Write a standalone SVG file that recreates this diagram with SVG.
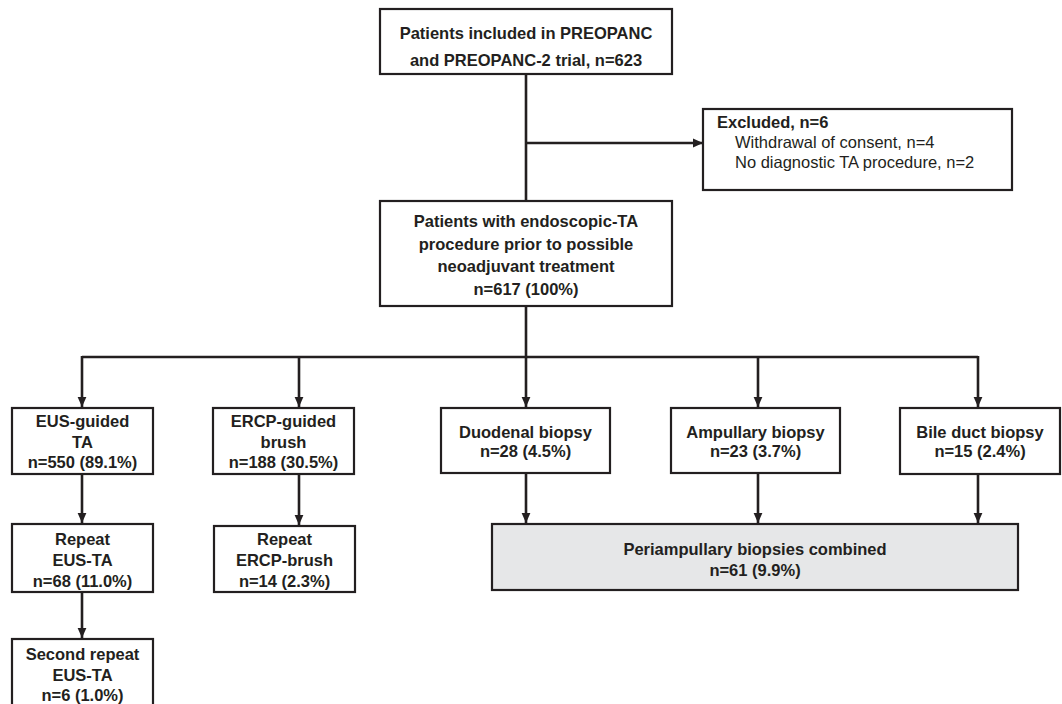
<svg xmlns="http://www.w3.org/2000/svg" width="1062" height="704" viewBox="0 0 1062 704">
<defs>
<marker id="ah" markerUnits="userSpaceOnUse" markerWidth="10" markerHeight="11" refX="10" refY="5" orient="auto" viewBox="0 0 10 10">
<path d="M0,0.6 L10,5 L0,9.4 z" fill="#231f20"/>
</marker>
<style>
.box{fill:#ffffff;stroke:#231f20;stroke-width:2.2}
.grey{fill:#e6e7e8;stroke:#231f20;stroke-width:2.2}
.t{font-family:"Liberation Sans",Arial,sans-serif;font-size:16.5px;font-weight:bold;fill:#231f20;text-anchor:middle}
.r{font-family:"Liberation Sans",Arial,sans-serif;font-size:16.5px;fill:#231f20}
.rb{font-family:"Liberation Sans",Arial,sans-serif;font-size:16.5px;font-weight:bold;fill:#231f20}
.c{fill:none;stroke:#231f20;stroke-width:2.6}
.ca{fill:none;stroke:#231f20;stroke-width:2.6;marker-end:url(#ah)}
</style>
</defs>
<rect width="1062" height="704" fill="#ffffff"/>
<g id="connectors">
<line class="c" x1="526" y1="74" x2="526" y2="201"/>
<line class="ca" x1="526" y1="143" x2="703" y2="143"/>
<line class="c" x1="526" y1="306" x2="526" y2="357"/>
<line class="c" x1="82" y1="357" x2="978" y2="357"/>
<line class="ca" x1="82" y1="356" x2="82" y2="407"/>
<line class="ca" x1="299" y1="356" x2="299" y2="407"/>
<line class="ca" x1="526" y1="356" x2="526" y2="407"/>
<line class="ca" x1="758" y1="356" x2="758" y2="407"/>
<line class="ca" x1="978" y1="356" x2="978" y2="407"/>
<line class="ca" x1="82" y1="474" x2="82" y2="523"/>
<line class="ca" x1="82" y1="592" x2="82" y2="638"/>
<line class="ca" x1="299" y1="474" x2="299" y2="525"/>
<line class="ca" x1="526" y1="473" x2="526" y2="523"/>
<line class="ca" x1="758" y1="473" x2="758" y2="523"/>
<line class="ca" x1="978" y1="474" x2="978" y2="523"/>
</g>
<g id="n-included">
<rect class="box" x="380" y="9" width="292" height="65"/>
<text class="t" x="526" y="39">Patients included in PREOPANC</text>
<text class="t" x="526" y="65.5">and PREOPANC-2 trial, n=623</text>
</g>
<g id="n-excluded">
<rect class="box" x="703" y="109" width="309" height="81"/>
<text class="rb" x="717" y="128">Excluded, n=6</text>
<text class="r" x="735" y="148">Withdrawal of consent, n=4</text>
<text class="r" x="735" y="168">No diagnostic TA procedure, n=2</text>
</g>
<g id="n-endoscopic">
<rect class="box" x="380" y="201" width="292" height="105"/>
<text class="t" x="526" y="227">Patients with endoscopic-TA</text>
<text class="t" x="526" y="249.5">procedure prior to possible</text>
<text class="t" x="526" y="272">neoadjuvant treatment</text>
<text class="t" x="526" y="294.5">n=617 (100%)</text>
</g>
<g id="n-eus">
<rect class="box" x="12" y="408" width="141" height="66"/>
<text class="t" x="82.5" y="427">EUS-guided</text>
<text class="t" x="82.5" y="447.5">TA</text>
<text class="t" x="82.5" y="468">n=550 (89.1%)</text>
</g>
<g id="n-ercp">
<rect class="box" x="213" y="408" width="141" height="66"/>
<text class="t" x="283.5" y="427">ERCP-guided</text>
<text class="t" x="283.5" y="447.5">brush</text>
<text class="t" x="283.5" y="468">n=188 (30.5%)</text>
</g>
<g id="n-duodenal">
<rect class="box" x="441" y="408" width="169" height="65"/>
<text class="t" x="525.5" y="438">Duodenal biopsy</text>
<text class="t" x="525.5" y="457">n=28 (4.5%)</text>
</g>
<g id="n-ampullary">
<rect class="box" x="671" y="408" width="169" height="65"/>
<text class="t" x="755.5" y="438">Ampullary biopsy</text>
<text class="t" x="755.5" y="457">n=23 (3.7%)</text>
</g>
<g id="n-bileduct">
<rect class="box" x="900" y="408" width="160" height="66"/>
<text class="t" x="980" y="438">Bile duct biopsy</text>
<text class="t" x="980" y="457">n=15 (2.4%)</text>
</g>
<g id="n-repeat-eus">
<rect class="box" x="12" y="524" width="141" height="68"/>
<text class="t" x="82.5" y="545">Repeat</text>
<text class="t" x="82.5" y="566">EUS-TA</text>
<text class="t" x="82.5" y="587">n=68 (11.0%)</text>
</g>
<g id="n-repeat-ercp">
<rect class="box" x="214" y="526" width="141" height="66"/>
<text class="t" x="284.5" y="545">Repeat</text>
<text class="t" x="284.5" y="566">ERCP-brush</text>
<text class="t" x="284.5" y="587">n=14 (2.3%)</text>
</g>
<g id="n-periampullary">
<rect class="grey" x="492" y="524" width="526" height="66"/>
<text class="t" x="755" y="555">Periampullary biopsies combined</text>
<text class="t" x="755" y="576">n=61 (9.9%)</text>
</g>
<g id="n-second-repeat">
<rect class="box" x="12" y="639" width="141" height="68"/>
<text class="t" x="82.5" y="660">Second repeat</text>
<text class="t" x="82.5" y="681">EUS-TA</text>
<text class="t" x="82.5" y="701">n=6 (1.0%)</text>
</g>
</svg>
